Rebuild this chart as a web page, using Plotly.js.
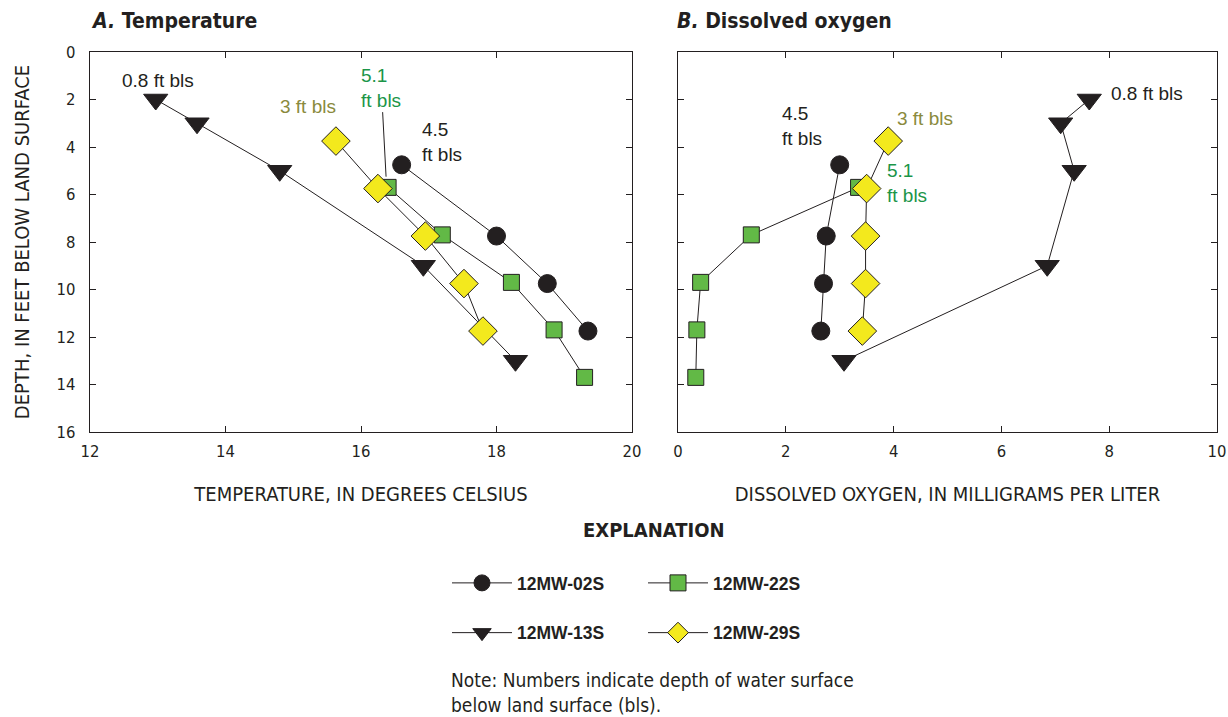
<!DOCTYPE html>
<html>
<head>
<meta charset="utf-8">
<script src="https://cdn.plot.ly/plotly-3.0.1.min.js"></script>
<style>body{margin:0;padding:0;background:#fff;} #chart{width:1228px;height:717px;}</style>
</head>
<body>
<div id="chart"></div>
<script>
// ---- data ----
var sites = ["12MW-02S", "12MW-22S", "12MW-13S", "12MW-29S"];

var depth02 = [4.75, 7.75, 9.75, 11.75];
var temp02  = [16.6, 18.0, 18.75, 19.35];
var do02    = [3.0, 2.75, 2.7, 2.65];

var depth22 = [5.7, 7.7, 9.7, 11.7, 13.7];
var temp22  = [16.4, 17.2, 18.22, 18.85, 19.3];
var do22    = [3.35, 1.36, 0.42, 0.35, 0.33];

var depth13 = [2, 3, 5, 9, 13];
var temp13  = [12.97, 13.58, 14.8, 16.92, 18.28];
var do13    = [7.63, 7.1, 7.35, 6.85, 3.08];

var depth29 = [3.75, 5.75, 7.75, 9.75, 11.75];
var temp29  = [15.63, 16.25, 16.95, 17.52, 17.8];
var do29    = [3.9, 3.5, 3.48, 3.48, 3.42];

var xTicksTemp = [12, 14, 16, 18, 20];
var xTicksDO = [0, 2, 4, 6, 8, 10];
var yTicks = [0, 2, 4, 6, 8, 10, 12, 14, 16];

// ---- styling ----
var INK = "#231f20";
var NARROW = "'Liberation Sans Narrow', 'DejaVu Sans Condensed', 'Arial Narrow', sans-serif";
var SANS = "'Liberation Sans', Arial, sans-serif";
var GREEN_TXT = "#1b9548";
var OLIVE_TXT = "#8a8a3c";

var styles = {
  "12MW-02S": {symbol: "circle", size: 18, color: INK, lineColor: INK, legend: "legend", rank: 1},
  "12MW-22S": {symbol: "square", size: 16, color: "#62b946", lineColor: INK, legend: "legend2", rank: 1},
  "12MW-13S": {symbol: "triangle-down", size: 21, color: INK, lineColor: INK, legend: "legend", rank: 2},
  "12MW-29S": {symbol: "diamond", size: 22, color: "#f3e91d", lineColor: INK, legend: "legend2", rank: 2}
};

function mk(name, x, y, xa, ya, showleg) {
  var s = styles[name];
  return {
    type: "scatter", mode: "lines+markers", name: name,
    x: x, y: y, xaxis: xa, yaxis: ya,
    line: {color: INK, width: 1},
    marker: {symbol: s.symbol, size: s.size, color: s.color, line: {color: s.lineColor, width: 1}},
    showlegend: showleg, legend: s.legend, legendrank: s.rank, legendgroup: name,
    hoverinfo: "skip"
  };
}

// draw order: 13S, 02S, 22S, 29S (29S on top)
var data = [
  mk("12MW-13S", temp13, depth13, "x", "y", true),
  mk("12MW-02S", temp02, depth02, "x", "y", true),
  mk("12MW-22S", temp22, depth22, "x", "y", true),
  mk("12MW-29S", temp29, depth29, "x", "y", true),
  mk("12MW-13S", do13, depth13, "x2", "y2", false),
  mk("12MW-02S", do02, depth02, "x2", "y2", false),
  mk("12MW-22S", do22, depth22, "x2", "y2", false),
  mk("12MW-29S", do29, depth29, "x2", "y2", false)
];

var W = 1228, H = 717;
function px(v) { return v / W; }
function py(v) { return 1 - v / H; }

var axBase = {
  showline: true, linecolor: INK, linewidth: 1.3, mirror: "ticks",
  ticks: "inside", ticklen: 6, tickcolor: INK, tickwidth: 1,
  showgrid: false, zeroline: false, ticklabeloverflow: "allow",
  tickfont: {family: NARROW, size: 16.5, color: INK}
};

function ax(extra) { return Object.assign({}, axBase, extra); }

var annFont = {family: SANS, size: 19, color: INK};
var titleFont = {family: NARROW, size: 20, color: INK};

var annotations = [
  {xref: "paper", yref: "paper", x: px(89), y: py(7), xanchor: "left", yanchor: "top", showarrow: false,
   text: "<b><i>A.</i> Temperature</b>", font: {family: NARROW, size: 21, color: INK}},
  {xref: "paper", yref: "paper", x: px(675), y: py(7), xanchor: "left", yanchor: "top", showarrow: false,
   text: "<b><i>B.</i> Dissolved oxygen</b>", font: {family: NARROW, size: 21, color: INK}},

  // panel A labels
  {xref: "x", yref: "y", x: 13.0, y: 1.2, text: "0.8 ft bls", showarrow: false, font: annFont},
  {xref: "x", yref: "y", x: 15.22, y: 2.3, text: "3 ft bls", showarrow: false, font: Object.assign({}, annFont, {color: OLIVE_TXT})},
  {xref: "x", yref: "y", x: 16.37, y: 5.25, axref: "x", ayref: "y", ax: 16.3, ay: 1.5,
   text: "5.1<br>ft bls", align: "left", showarrow: true, arrowhead: 0, arrowwidth: 1, arrowcolor: INK,
   font: Object.assign({}, annFont, {color: GREEN_TXT})},
  {xref: "x", yref: "y", x: 17.2, y: 3.8, text: "4.5<br>ft bls", align: "left", showarrow: false, font: annFont},

  // panel B labels
  {xref: "x2", yref: "y2", x: 2.3, y: 3.1, text: "4.5<br>ft bls", align: "left", showarrow: false, font: annFont},
  {xref: "x2", yref: "y2", x: 4.58, y: 2.8, text: "3 ft bls", showarrow: false, font: Object.assign({}, annFont, {color: OLIVE_TXT})},
  {xref: "x2", yref: "y2", x: 4.24, y: 5.5, text: "5.1<br>ft bls", align: "left", showarrow: false, font: Object.assign({}, annFont, {color: GREEN_TXT})},
  {xref: "x2", yref: "y2", x: 8.7, y: 1.75, text: "0.8 ft bls", showarrow: false, font: annFont},

  // explanation
  {xref: "paper", yref: "paper", x: px(654), y: py(530), xanchor: "center", yanchor: "middle", showarrow: false,
   text: "<b>EXPLANATION</b>", font: {family: NARROW, size: 20, color: INK}},
  {xref: "paper", yref: "paper", x: px(449), y: py(667), xanchor: "left", yanchor: "top", showarrow: false,
   align: "left", text: "Note: Numbers indicate depth of water surface<br>below land surface (bls).",
   font: {family: NARROW, size: 19, color: INK}}
];

var legendCommon = {
  orientation: "v", bgcolor: "rgba(0,0,0,0)", borderwidth: 0,
  font: {family: SANS, size: 17.5, color: INK, weight: "bold"},
  tracegroupgap: 24, itemwidth: 60, xanchor: "left", yanchor: "top", itemclick: false, itemdoubleclick: false
};

var layout = {
  width: W, height: H,
  margin: {l: 0, r: 0, t: 0, b: 0},
  paper_bgcolor: "#ffffff", plot_bgcolor: "#ffffff",
  showlegend: true,
  xaxis: ax({domain: [px(90), px(632)], range: [12, 20], tickvals: xTicksTemp, anchor: "y", ticklabelstandoff: 4,
    title: {text: "TEMPERATURE, IN DEGREES CELSIUS", font: titleFont, standoff: 27}}),
  yaxis: ax({domain: [py(432), py(52)], range: [16, 0], tickvals: yTicks, anchor: "x", ticklabelstandoff: 10,
    title: {text: "DEPTH, IN FEET BELOW LAND SURFACE", font: titleFont, standoff: 21}}),
  xaxis2: ax({domain: [px(678), px(1217)], range: [0, 10], tickvals: xTicksDO, anchor: "y2", ticklabelstandoff: 4,
    title: {text: "DISSOLVED OXYGEN, IN MILLIGRAMS PER LITER", font: titleFont, standoff: 27}}),
  yaxis2: ax({domain: [py(432), py(52)], range: [16, 0], tickvals: yTicks, anchor: "x2", showticklabels: false}),
  legend: Object.assign({}, legendCommon, {x: px(447), y: py(565)}),
  legend2: Object.assign({}, legendCommon, {x: px(643), y: py(565)}),
  annotations: annotations
};

Plotly.newPlot("chart", data, layout, {staticPlot: true, displayModeBar: false});
</script>
</body>
</html>
